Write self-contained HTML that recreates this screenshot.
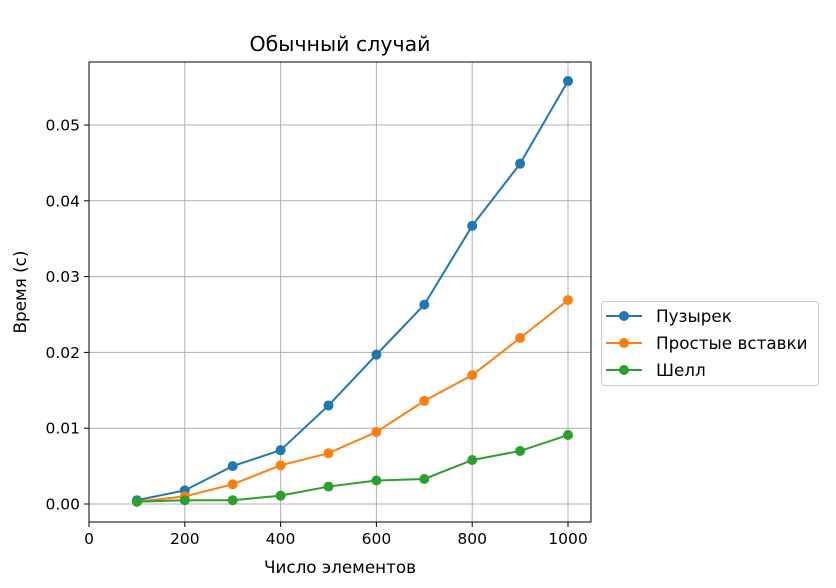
<!DOCTYPE html>
<html><head><meta charset="utf-8"><style>
body{margin:0;background:#fff}
svg{display:block;font-family:"DejaVu Sans","Liberation Sans",sans-serif}
</style></head><body>
<svg id="chart" width="836" height="588" viewBox="0 0 836 588">
<rect width="836" height="588" fill="#fff"/>
<g id="grid"></g>
<g id="series"></g>
<g id="axes"></g>
<text x="340" y="51" text-anchor="middle" font-size="20.5" fill="#000">Обычный случай</text>
<text x="340" y="573" text-anchor="middle" font-size="16.8" fill="#000">Число элементов</text>
<text transform="translate(26,292) rotate(-90)" text-anchor="middle" font-size="16.8" fill="#000">Время (с)</text>
<g>
<rect x="601.5" y="301.5" width="217" height="84" rx="3" fill="#fff" stroke="#ccc"/>
<g id="legend-items"></g>
</g>
</svg>
<script>
const categories=[100,200,300,400,500,600,700,800,900,1000];
const bubbleValues=[0.0005,0.0018,0.005,0.0071,0.013,0.0197,0.0263,0.0367,0.0449,0.0558];
const insertionValues=[0.0003,0.001,0.0026,0.0051,0.0067,0.0095,0.0136,0.017,0.0219,0.0269];
const shellValues=[0.0003,0.0005,0.0005,0.0011,0.0023,0.0031,0.0033,0.0058,0.007,0.0091];
const seriesNames=["Пузырек","Простые вставки","Шелл"];
const xTicks=[0,200,400,600,800,1000];
const yTicks=[0,0.01,0.02,0.03,0.04,0.05];
const yTickLabels=["0.00","0.01","0.02","0.03","0.04","0.05"];
const colors=["#1f77b4","#ff7f0e","#2ca02c"];
const L=89,R=591,T=62,B=522;
function xs(v){return 89+v*0.479;}
function ys(v){return 504-v*7580;}
const NS="http://www.w3.org/2000/svg";
function mk(tag,attrs,parent){const e=document.createElementNS(NS,tag);for(const k in attrs)e.setAttribute(k,attrs[k]);parent.appendChild(e);return e;}
const grid=document.getElementById('grid'),axes=document.getElementById('axes'),ser=document.getElementById('series');
xTicks.forEach(t=>{const x=xs(t);
 const g=mk('line',{x1:x,x2:x,y1:T,y2:B,stroke:'#b0b0b0','stroke-width':1},grid);
 
 
 mk('line',{x1:x,x2:x,y1:B,y2:B+5,stroke:'#000'},axes);
 const tx=mk('text',{x:x,y:B+22,'text-anchor':'middle','font-size':15.5},axes);tx.textContent=t;
 
 
});
yTicks.forEach((t,i)=>{const y=ys(t);
 const g=mk('line',{x1:L,x2:R,y1:y,y2:y,stroke:'#b0b0b0','stroke-width':1},grid);
 
 
 mk('line',{x1:L-5,x2:L,y1:y,y2:y,stroke:'#000'},axes);
 const tx=mk('text',{x:L-9,y:y+5.5,'text-anchor':'end','font-size':15.5},axes);tx.textContent=yTickLabels[i];
 
 
});
const frame=mk('rect',{x:L,y:T,width:R-L,height:B-T,fill:'none',stroke:'#000','stroke-width':1},axes);


[bubbleValues,insertionValues,shellValues].forEach((vals,si)=>{
 const g=mk('g',{},ser);
 
 
 const pts=categories.map((c,i)=>xs(c)+','+ys(vals[i])).join(' ');
 mk('polyline',{points:pts,fill:'none',stroke:colors[si],'stroke-width':2},g);
 categories.forEach((c,i)=>{const p=mk('circle',{cx:xs(c),cy:ys(vals[i]),r:5,fill:colors[si]},g);
  
  });
});
const li=document.getElementById('legend-items');
seriesNames.forEach((n,i)=>{const y=316+i*27;
 const g=mk('g',{},li);
 
 
 mk('line',{x1:606,x2:642,y1:y,y2:y,stroke:colors[i],'stroke-width':2},g);
 mk('circle',{cx:624,cy:y,r:5,fill:colors[i]},g);
 const t=mk('text',{x:656,y:y+6,'font-size':16.8,fill:'#000'},g);t.textContent=n;
});
</script>
</body></html>
